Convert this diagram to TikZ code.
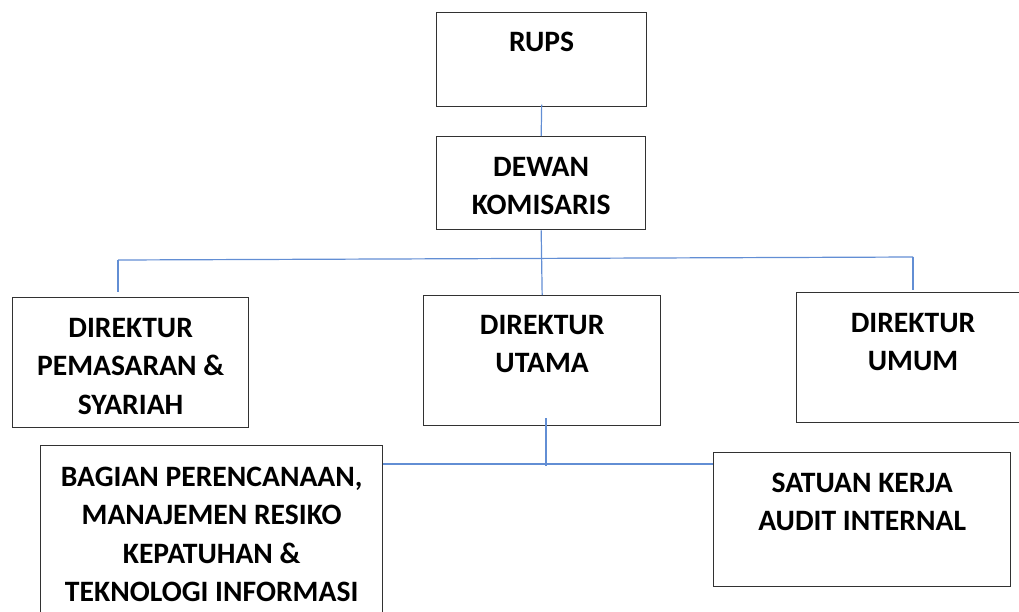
\documentclass[tikz,border=0pt]{standalone}
\usepackage{fontspec}
\setmainfont{Carlito}
\usepackage{xcolor}
\usepackage{tikz}
\usetikzlibrary{calc}

\definecolor{linkblue}{RGB}{98,142,212}
\definecolor{boxgray}{RGB}{50,50,50}

\begin{document}
\begin{tikzpicture}[x=0.75pt, y=-0.75pt,
  orgbox/.style={draw=boxgray, line width=1pt, inner sep=0pt, anchor=north west},
  orglbl/.style={inner sep=0pt, anchor=north, align=center,
    font=\fontsize{22.2}{28.7}\selectfont\bfseries},
  link/.style={draw=linkblue, line width=0.9pt}]

  \useasboundingbox (0,0) rectangle (1019,611);
  \clip (0,0) rectangle (1019,611);

  % Boxes
  \node[orgbox, minimum width=210*0.75pt, minimum height=94*0.75pt] (rups)      at (436,12)  {};
  \node[orgbox, minimum width=209*0.75pt, minimum height=93*0.75pt] (dewan)     at (436,136) {};
  \node[orgbox, minimum width=236*0.75pt, minimum height=130*0.75pt] (pemasaran) at (12,297)  {};
  \node[orgbox, minimum width=237*0.75pt, minimum height=130*0.75pt] (utama)     at (423,295) {};
  \node[orgbox, minimum width=300*0.75pt, minimum height=130*0.75pt] (umum)      at (796,292) {};
  \node[orgbox, minimum width=342*0.75pt, minimum height=200*0.75pt] (bagian)    at (40,445)  {};
  \node[orgbox, minimum width=297*0.75pt, minimum height=134*0.75pt] (satuan)    at (713,452) {};

  % Labels
  \node[orglbl] (rupslbl)      at (rups.center |- 0,32)      {RUPS};
  \node[orglbl] (dewanlbl)     at (dewan.center |- 0,157)    {DEWAN\\KOMISARIS};
  \node[orglbl] (pemasaranlbl) at (pemasaran.center |- 0,318) {DIREKTUR\\PEMASARAN \&\\SYARIAH};
  \node[orglbl] (utamalbl)     at (utama.center |- 0,315)    {DIREKTUR\\UTAMA};
  \node[orglbl] (umumlbl)      at (913,313)                  {DIREKTUR\\UMUM};
  \node[orglbl] (bagianlbl)    at (bagian.center |- 0,467)   {BAGIAN PERENCANAAN,\\MANAJEMEN RESIKO\\KEPATUHAN \&\\TEKNOLOGI INFORMASI};
  \node[orglbl] (satuanlbl)    at (satuan.center |- 0,473)   {SATUAN KERJA\\AUDIT INTERNAL};

  % Lines
  \coordinate (barL) at (118,260);
  \coordinate (barR) at (913,257);
  \coordinate (subbar) at (546,464);

  \draw[link] ([yshift=2pt]rups.south) -- (dewan.north);
  \draw[link] (dewan.south) -- (utama.north);
  \draw[link] (barL) -- (barR);
  \draw[link, shorten >=3.5pt] (barL) -- (barL |- pemasaran.north);
  \draw[link, shorten >=1.5pt] (barR) -- (barR |- umum.north);
  \draw[link] ([yshift=6pt]subbar |- utama.south) -- ([yshift=-1.5pt]subbar);
  \draw[link] (subbar -| bagian.east) -- (subbar -| satuan.west);

\end{tikzpicture}
\end{document}
